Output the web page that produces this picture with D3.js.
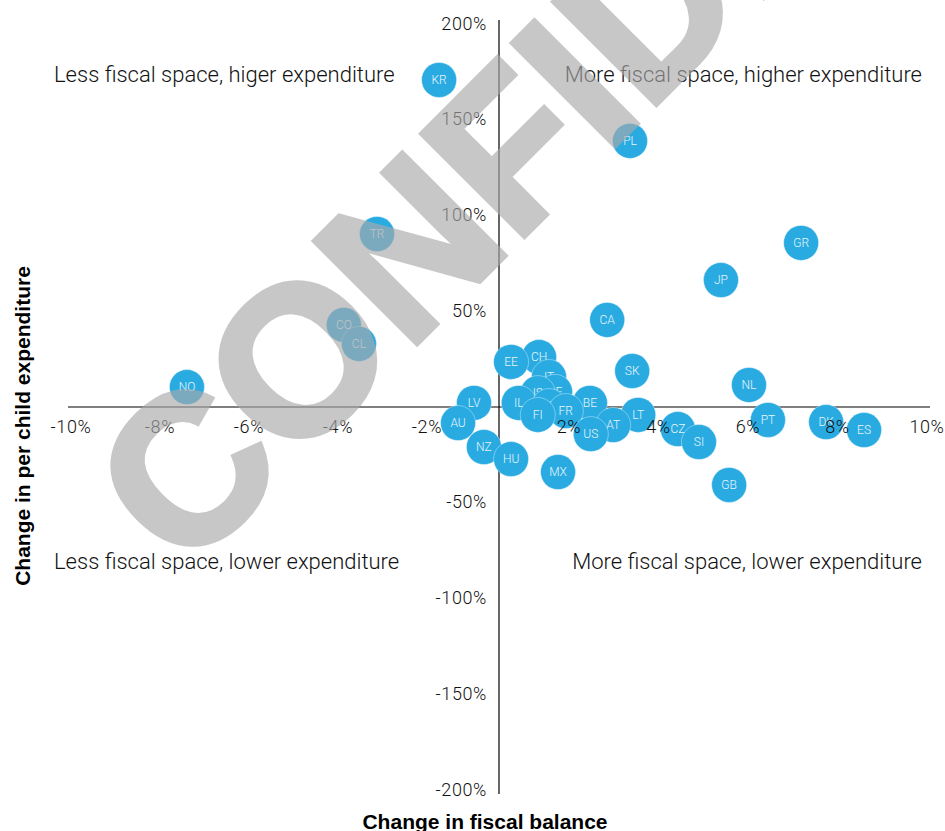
<!DOCTYPE html>
<html>
<head>
<meta charset="utf-8">
<script src="https://cdn.jsdelivr.net/npm/d3@7"></script>
<style>
  html, body { margin: 0; padding: 0; background: #fff; }
  svg { display: block; }
</style>
</head>
<body>
<svg id="chart" width="945" height="831"></svg>
<script>
// ---- data ----
const countries = ["KR","PL","TR","GR","JP","CA","CO","CL","EE","CH","SK","IT","NL","NO","IS","DE","IL","LV","BE","SE","FR","FI","LT","AU","AT","PT","DK","CZ","ES","US","SI","NZ","HU","MX","GB"];
const fiscalBalanceChange = [-1.39,3.04,-2.83,7.01,5.15,2.51,-3.60,-3.25,0.28,0.93,3.09,1.16,5.80,-7.24,0.90,1.30,0.46,-0.58,2.11,1.16,1.55,0.90,3.23,-0.95,2.65,6.24,7.59,4.15,8.47,2.13,4.64,-0.35,0.28,1.37,5.34];
const perChildExpChange = [169.0,137.5,89.4,84.8,65.6,45.0,42.4,32.6,23.3,25.8,18.6,15.5,11.4,10.3,7.2,7.8,2.1,2.1,2.1,0.5,-2.1,-4.1,-4.1,-8.3,-9.3,-6.7,-7.8,-11.4,-11.9,-14.0,-18.1,-20.7,-26.9,-33.6,-40.3];
const xTicks = [-10,-8,-6,-4,-2,2,4,6,8,10];
const yTicks = [200,150,100,50,-50,-100,-150,-200];
const quadrantLabels = [
  "Less fiscal space, higer expenditure",
  "More fiscal space, higher expenditure",
  "Less fiscal space, lower expenditure",
  "More fiscal space, lower expenditure"
];
const xTitle = "Change in fiscal balance";
const yTitle = "Change in per child expenditure";
const watermark = "CONFIDENTIAL";

// ---- layout ----
const svg = d3.select("#chart");
const x = d3.scaleLinear().domain([-10, 10]).range([68, 930]);
const y = d3.scaleLinear().domain([-200, 200]).range([794, 20]);
// tick-label placement scales (labels in the original are spread slightly differently from the plot scale)
const xLab = d3.scaleLinear().domain([-10, -2, 2, 10]).range([71, 427, 569, 927]);
const yLab = d3.scaleLinear().domain([-200, 200]).range([789, 23]);

const FONT = "Roboto, 'Liberation Sans', Arial, sans-serif";
const BOLD = "'Liberation Sans', Arial, Helvetica, sans-serif";
const BLUE = "#29abe2";

// axes lines
svg.append("line").attr("x1", x(-10)).attr("x2", x(10)).attr("y1", y(0)).attr("y2", y(0))
  .attr("stroke", "#000").attr("stroke-width", 1.2);
svg.append("line").attr("x1", x(0)).attr("x2", x(0)).attr("y1", y(200)).attr("y2", y(-200))
  .attr("stroke", "#000").attr("stroke-width", 1.2);

// y tick labels
svg.append("g").selectAll("text").data(yTicks).join("text")
  .attr("x", x(0) - 12).attr("y", d => yLab(d))
  .attr("text-anchor", "end").attr("dominant-baseline", "central")
  .attr("font-family", FONT).attr("font-weight", 300).attr("font-size", 18)
  .attr("letter-spacing", 0.6).attr("fill", "#111")
  .text(d => d + "%");

// quadrant labels
const qpos = [
  {x: 54, y: 74, anchor: "start"},
  {x: 922, y: 74, anchor: "end"},
  {x: 54, y: 561, anchor: "start"},
  {x: 922, y: 561, anchor: "end"}
];
svg.append("g").selectAll("text").data(quadrantLabels).join("text")
  .attr("x", (d, i) => qpos[i].x).attr("y", (d, i) => qpos[i].y)
  .attr("text-anchor", (d, i) => qpos[i].anchor).attr("dominant-baseline", "central")
  .attr("font-family", FONT).attr("font-weight", 300).attr("font-size", 22).attr("fill", "#111")
  .text(d => d);

// bubbles
const pts = countries.map((c, i) => ({c, x: fiscalBalanceChange[i], y: perChildExpChange[i]}))
  .sort((a, b) => b.y - a.y);
const g = svg.append("g").selectAll("g").data(pts).join("g")
  .attr("transform", d => `translate(${x(d.x)},${y(d.y)})`);
g.append("circle").attr("r", 17.5).attr("fill", BLUE)
  .attr("stroke", "#ffffff").attr("stroke-opacity", 0.45).attr("stroke-width", 0.8);
g.append("text").attr("text-anchor", "middle").attr("dominant-baseline", "central")
  .attr("font-family", FONT).attr("font-weight", 300).attr("font-size", 12).attr("fill", "#e8f5fc")
  .text(d => d.c);

// x tick labels (on top of bubbles)
svg.append("g").selectAll("text").data(xTicks).join("text")
  .attr("x", d => xLab(d)).attr("y", 426)
  .attr("text-anchor", "middle").attr("dominant-baseline", "central")
  .attr("font-family", FONT).attr("font-weight", 300).attr("font-size", 18)
  .attr("letter-spacing", 0.6).attr("fill", "#111")
  .text(d => d + "%");

// axis titles
svg.append("text").attr("x", 485).attr("y", 821)
  .attr("text-anchor", "middle").attr("dominant-baseline", "central")
  .attr("font-family", BOLD).attr("font-weight", 700).attr("font-size", 21).attr("fill", "#000")
  .text(xTitle);
svg.append("text").attr("transform", "translate(22,426) rotate(-90)")
  .attr("text-anchor", "middle").attr("dominant-baseline", "central")
  .attr("font-family", BOLD).attr("font-weight", 700).attr("font-size", 21).attr("fill", "#000")
  .text(yTitle);

// watermark
svg.append("g").attr("opacity", 0.64)
  .append("text").attr("transform", "translate(184.6,575.8) rotate(-45)")
  .attr("text-anchor", "start")
  .attr("font-family", BOLD).attr("font-weight", 700)
  .attr("font-size", 210).attr("fill", "#a9a9a9")
  .attr("stroke", "#a9a9a9").attr("stroke-width", 6).attr("stroke-linejoin", "miter")
  .text(watermark);
</script>
</body>
</html>
